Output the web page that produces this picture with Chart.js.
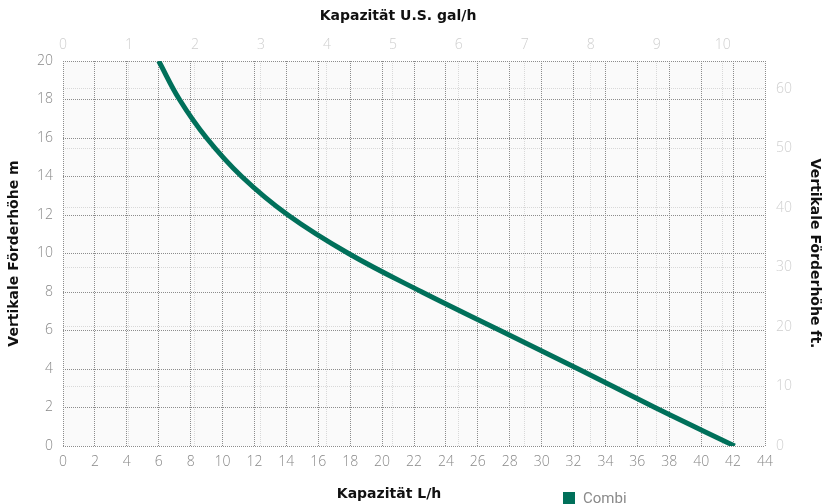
<!DOCTYPE html>
<html>
<head>
<meta charset="utf-8">
<script src="https://cdn.jsdelivr.net/npm/chart.js@4/dist/chart.umd.min.js"></script>
<style>
  html, body { margin: 0; padding: 0; background: #fff; }
  #wrap { position: relative; width: 825px; height: 504px; }
  #legend { position: absolute; left: 563px; top: 489px; display: flex; align-items: center; font-family: Roboto, sans-serif; font-size: 15px; color: #8a8a8a; }
  #legend .box { width: 12px; height: 12px; background: #00705a; margin-right: 8px; }
</style>
</head>
<body>
<div id="wrap">
  <canvas id="c" width="825" height="504"></canvas>
  <div id="legend"><span class="box"></span><span>Combi</span></div>
</div>
<script>
// Data
const seriesName = 'Combi';
const capacityLh = [6.0, 7.3, 9.0, 11.2, 14.1, 17.9, 22.5, 27.4, 32.3, 37.1, 42.1];
const headM      = [20,  18,  16,  14,   12,   10,   8,    6,    4,    2,    0];

const xMin = 0, xMax = 44, xStep = 2;
const yMin = 0, yMax = 20, yStep = 2;
const galMax = 10.64, galStep = 1;
const ftMax = 64.7, ftStep = 10;

const xTitle = 'Kapazität L/h';
const x2Title = 'Kapazität U.S. gal/h';
const yTitle = 'Vertikale Förderhöhe m';
const y2Title = 'Vertikale Förderhöhe ft.';

const points = capacityLh.map((x, i) => ({ x: x, y: headM[i] }));

const bgPlugin = {
  id: 'plotBg',
  beforeDraw(chart) {
    const { ctx, chartArea: a } = chart;
    ctx.save();
    ctx.fillStyle = '#fafafa';
    ctx.fillRect(a.left, a.top, a.right - a.left, a.bottom - a.top);
    ctx.restore();
  }
};

const tickFont = { family: "'Open Sans', sans-serif", size: 14, weight: 300 };
const titleFont = { family: "'DejaVu Sans', sans-serif", size: 14, weight: 'bold' };
const darkGrid = { color: '#8c8c8c', lineWidth: 1, drawTicks: false, z: -1 };
const lightGrid = { color: '#d8d8d8', lineWidth: 1, drawTicks: false, z: -2 };
const dotted = { display: false, dash: [1, 1] };

// shift a horizontal scale's title sideways
function shiftTitle(scale, dx) {
  const orig = Object.getPrototypeOf(scale).drawTitle;
  scale.drawTitle = function () {
    const ctx = this.ctx;
    ctx.save();
    ctx.translate(dx, 0);
    orig.call(this);
    ctx.restore();
  };
}

function build() {
  new Chart(document.getElementById('c'), {
    type: 'line',
    data: {
      datasets: [{
        label: seriesName,
        data: points,
        borderColor: '#00705a',
        backgroundColor: '#00705a',
        borderWidth: 5,
        pointRadius: 0,
        tension: 0.4,
        xAxisID: 'x',
        yAxisID: 'y'
      }]
    },
    options: {
      responsive: false,
      animation: false,
      layout: { padding: 0 },
      plugins: { legend: { display: false }, tooltip: { enabled: false } },
      scales: {
        x: {
          type: 'linear', position: 'bottom', min: xMin, max: xMax,
          ticks: { stepSize: xStep, color: '#888', font: tickFont, padding: 8, maxRotation: 0, autoSkip: false },
          grid: Object.assign({}, darkGrid),
          border: Object.assign({}, dotted),
          title: { display: true, text: xTitle, color: '#111', font: titleFont, padding: { top: 0, bottom: 1 } },
          afterFit(s) { s.height = 58; shiftTitle(s, -25); }
        },
        x2: {
          type: 'linear', position: 'top', min: 0, max: galMax,
          ticks: { stepSize: galStep, includeBounds: false, color: '#cfcfcf', font: tickFont, padding: 8, maxRotation: 0, autoSkip: false },
          grid: Object.assign({}, lightGrid),
          border: Object.assign({}, dotted),
          title: { display: true, text: x2Title, color: '#111', font: titleFont, padding: { top: 8, bottom: 0 } },
          afterFit(s) { s.height = 61; shiftTitle(s, -16); }
        },
        y: {
          type: 'linear', position: 'left', min: yMin, max: yMax,
          ticks: { stepSize: yStep, color: '#888', font: tickFont, padding: 10 },
          grid: Object.assign({}, darkGrid),
          border: Object.assign({}, dotted),
          title: { display: true, text: yTitle, color: '#111', font: titleFont, padding: { top: 6, bottom: 0 } },
          afterFit(s) { s.width = 63; }
        },
        y2: {
          type: 'linear', position: 'right', min: 0, max: ftMax,
          ticks: { stepSize: ftStep, includeBounds: false, color: '#cfcfcf', font: tickFont, padding: 11 },
          grid: Object.assign({}, lightGrid),
          border: Object.assign({}, dotted),
          title: { display: true, text: y2Title, color: '#111', font: titleFont, padding: { top: 2, bottom: 0 } },
          afterFit(s) { s.width = 60; }
        }
      }
    },
    plugins: [bgPlugin]
  });
}

Promise.all([
  document.fonts.load("300 14px 'Open Sans'"),
  document.fonts.load("bold 14px 'DejaVu Sans'")
]).catch(() => {}).then(build);
</script>
</body>
</html>
